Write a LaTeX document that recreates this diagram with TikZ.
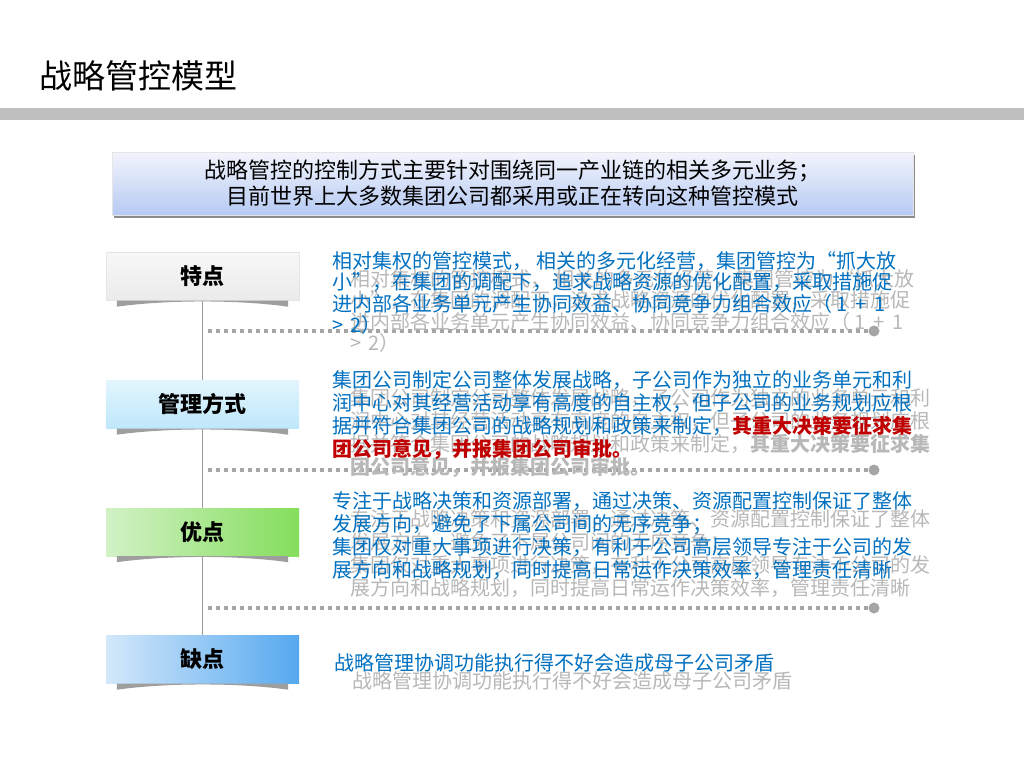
\documentclass[tikz,border=0pt]{standalone}
\usepackage{fontspec}
\setmainfont{Noto Sans CJK SC}
\usetikzlibrary{positioning}

\definecolor{azultexto}{HTML}{0070C0}
\definecolor{rojotexto}{HTML}{C00000}
\definecolor{sombragris}{HTML}{B8B8B8}
\definecolor{banda}{HTML}{BFBFBF}
\definecolor{punto}{HTML}{A5A5A5}
\definecolor{cabarriba}{HTML}{F3F4FC}
\definecolor{cababajo}{HTML}{B5CAF3}

\begin{document}
\begin{tikzpicture}[x=1pt, y=-1pt,
    etiqueta/.style={minimum width=193pt, minimum height=48pt, inner sep=0pt,
        font=\fontsize{22}{26}\selectfont\bfseries},
    textoazul/.style={anchor=north west, inner sep=0pt, align=left,
        text=azultexto, font=\fontsize{20}{23}\selectfont},
    textosombra/.style={textoazul, text=sombragris},
    punteada/.style={line width=3.3pt, dash pattern=on 4pt off 4pt, punto},
    conector/.style={gray!80, line width=0.8pt},
    puntofinal/.style={circle, fill=punto, minimum size=11pt, inner sep=0pt},
    sombracurva/.style={fill=black!38}]

    % Fondo y tamaño de la lámina
    \useasboundingbox[fill=white] (0,0) rectangle (1024,768);

    % Título y banda gris
    \node[anchor=west, inner sep=0pt, font=\fontsize{33}{36}\selectfont]
        (titulo) at (39,76) {战略管控模型};
    \fill[banda] (0,108) rectangle (1024,120);

    % Recuadro de cabecera
    \fill[black!45] (114,155) rectangle (915,218);
    \node[draw=black!10, top color=cabarriba, bottom color=cababajo,
        minimum width=801pt, minimum height=63pt, align=center,
        font=\fontsize{22}{26}\selectfont] (cabecera) at (512.5,183.5)
        {战略管控的控制方式主要针对围绕同一产业链的相关多元业务；\\
         目前世界上大多数集团公司都采用或正在转向这种管控模式};

    % Etiquetas de la izquierda
    \node[etiqueta, draw=black!10, top color=black!3, bottom color=black!8]
        (rasgos) at (202.5,276.5) {特点};
    \node[etiqueta, top color={rgb,255:red,226;green,245;blue,253},
        bottom color={rgb,255:red,190;green,231;blue,251}]
        (modo) at (202.5,404.5) {管理方式};
    \node[etiqueta, left color={rgb,255:red,210;green,241;blue,198},
        right color={rgb,255:red,132;green,222;blue,92}]
        (ventajas) at (202.5,532) {优点};
    \node[etiqueta, left color={rgb,255:red,211;green,232;blue,250},
        right color={rgb,255:red,86;green,168;blue,239}]
        (defectos) at (202.5,659.5) {缺点};

    % Sombras curvas bajo las etiquetas
    \foreach \n in {rasgos,modo,ventajas,defectos}
        \fill[sombracurva] ([xshift=11pt]\n.south west) -- ([xshift=-11pt]\n.south east)
            -- ++(0,6) .. controls +(-50,-7) and +(50,-7) .. ([xshift=11pt,yshift=-6pt]\n.south west) -- cycle;

    % Línea vertical
    \draw[conector] (rasgos.south) -- (modo.north);
    \draw[conector] (modo.south) -- (ventajas.north);
    \draw[conector] (ventajas.south) -- (defectos.north);

    % Líneas punteadas con su punto final
    \coordinate (ini1) at (208,331);
    \node[puntofinal] (fin1) at (874,331) {};
    \draw[punteada] (ini1) -- (fin1.west);
    \coordinate (ini2) at (208,470);
    \node[puntofinal] (fin2) at (874,470) {};
    \draw[punteada] (ini2) -- (fin2.west);
    \coordinate (ini3) at (208,608);
    \node[puntofinal] (fin3) at (874,608) {};
    \draw[punteada] (ini3) -- (fin3.west);

    % Texto de 特点 (sombra y texto)
    \node[textosombra, font=\fontsize{20}{21.5}\selectfont] (rasgos-s) at (350,269)
        {相对集权的管控模式，\ 相关的多元化经营，集团管控为“抓大放\\
         小”，在集团的调配下，追求战略资源的优化配置，采取措施促\\
         进内部各业务单元产生协同效益、协同竞争力组合效应（\hspace{4pt}1\hspace{8pt}+\hspace{8pt}1\\
         >\hspace{7pt}2）};
    \node[textoazul, font=\fontsize{20}{21.5}\selectfont] (rasgos-t) at (332,251)
        {相对集权的管控模式，\ 相关的多元化经营，集团管控为“抓大放\\
         小”，在集团的调配下，追求战略资源的优化配置，采取措施促\\
         进内部各业务单元产生协同效益、协同竞争力组合效应（\hspace{4pt}1\hspace{8pt}+\hspace{8pt}1\\
         >\hspace{7pt}2）};

    % Texto de 管理方式
    \node[textosombra] (modo-s) at (350,388)
        {集团公司制定公司整体发展战略，子公司作为独立的业务单元和利\\
         润中心对其经营活动享有高度的自主权，但子公司的业务规划应根\\
         据并符合集团公司的战略规划和政策来制定，\textbf{其重大决策要征求集}\\
         \textbf{团公司意见，并报集团公司审批。}};
    \node[textoazul] (modo-t) at (332,370)
        {集团公司制定公司整体发展战略，子公司作为独立的业务单元和利\\
         润中心对其经营活动享有高度的自主权，但子公司的业务规划应根\\
         据并符合集团公司的战略规划和政策来制定，{\bfseries\color{rojotexto}其重大决策要征求集}\\
         {\bfseries\color{rojotexto}团公司意见，并报集团公司审批。}};

    % Texto de 优点
    \node[textosombra] (ventajas-s) at (350,509)
        {专注于战略决策和资源部署，通过决策、资源配置控制保证了整体\\
         发展方向，避免了下属公司间的无序竞争；\\
         集团仅对重大事项进行决策，有利于公司高层领导专注于公司的发\\
         展方向和战略规划，同时提高日常运作决策效率，管理责任清晰};
    \node[textoazul] (ventajas-t) at (332,491)
        {专注于战略决策和资源部署，通过决策、资源配置控制保证了整体\\
         发展方向，避免了下属公司间的无序竞争；\\
         集团仅对重大事项进行决策，有利于公司高层领导专注于公司的发\\
         展方向和战略规划，同时提高日常运作决策效率，管理责任清晰};

    % Texto de 缺点
    \node[textosombra] (defectos-s) at (352,671) {战略管理协调功能执行得不好会造成母子公司矛盾};
    \node[textoazul] (defectos-t) at (334,653) {战略管理协调功能执行得不好会造成母子公司矛盾};

\end{tikzpicture}
\end{document}
